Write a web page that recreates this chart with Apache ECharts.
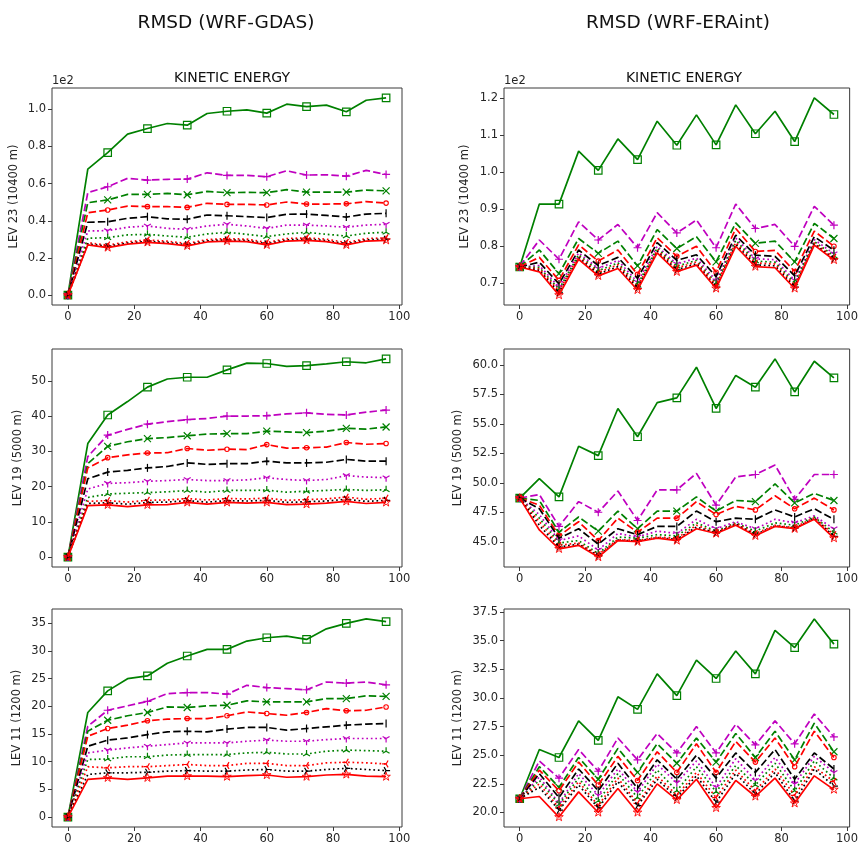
<!DOCTYPE html>
<html>
<head>
<meta charset="utf-8">
<script src="https://cdn.jsdelivr.net/npm/echarts@6/dist/echarts.min.js"></script>
<style>
  html, body { margin: 0; padding: 0; background: #ffffff; }
  #chart { width: 861px; height: 848px; }
</style>
</head>
<body>
<div id="chart"></div>
<script>
// Forecast hour of each sample (6-hourly, markers every 12 h)
const hours = [0, 6, 12, 18, 24, 30, 36, 42, 48, 54, 60, 66, 72, 78, 84, 90, 96];
const xTicks = [0, 20, 40, 60, 80, 100];

// Kinetic-energy RMSD, one row per experiment (same order as seriesLook below)
// WRF-GDAS, level 23 (10400 m)
const gdasLev23 = [
  [0, 67.8, 76.6, 86.6, 89.6, 92.3, 91.4, 97.7, 98.9, 99.6, 97.9, 102.7, 101.4, 102.2, 98.6, 104.8, 106.1],
  [0, 55.1, 58.3, 62.8, 61.9, 62.3, 62.4, 65.8, 64.4, 64.4, 63.7, 66.9, 64.6, 64.7, 64.0, 67.1, 64.9],
  [0, 49.7, 51.2, 54.2, 54.2, 54.7, 54.0, 55.8, 55.1, 55.3, 55.1, 56.7, 55.4, 55.4, 55.4, 56.5, 56.1],
  [0, 44.3, 45.8, 47.9, 47.6, 47.6, 47.2, 49.4, 48.8, 48.8, 48.5, 50.1, 49.0, 49.0, 49.1, 50.3, 49.5],
  [0, 39.2, 39.5, 41.3, 42.2, 41.0, 40.8, 43.1, 42.7, 42.2, 41.7, 43.5, 43.6, 42.9, 42.0, 43.6, 44.0],
  [0, 34.5, 34.7, 36.5, 37.2, 35.9, 35.4, 37.2, 38.1, 37.2, 35.9, 37.7, 37.7, 37.2, 36.5, 37.7, 38.1],
  [0, 30.6, 30.9, 32.4, 32.7, 31.8, 31.1, 32.9, 33.8, 32.7, 31.5, 32.9, 33.8, 32.7, 31.8, 33.3, 33.8],
  [0, 28.2, 26.9, 28.7, 29.7, 29.0, 27.8, 29.9, 30.4, 30.1, 28.3, 30.4, 30.8, 30.1, 28.3, 30.4, 30.8],
  [0, 27.6, 26.2, 28.0, 29.0, 28.3, 27.1, 29.2, 29.7, 29.4, 27.6, 29.7, 30.1, 29.4, 27.6, 29.7, 30.1],
  [0, 27.0, 25.6, 27.4, 28.4, 27.7, 26.5, 28.6, 29.1, 28.8, 27.0, 29.1, 29.5, 28.8, 27.0, 29.1, 29.5]
];
// WRF-ERAint, level 23 (10400 m)
const eraLev23 = [
  [74.4, 91.4, 91.4, 105.7, 100.5, 109.0, 103.4, 113.8, 107.3, 115.5, 107.4, 118.2, 110.4, 116.5, 108.3, 120.1, 115.6],
  [74.6, 81.7, 76.5, 86.6, 81.7, 85.9, 79.6, 89.1, 83.6, 87.1, 79.6, 91.4, 84.8, 85.9, 80.0, 90.8, 85.7],
  [74.5, 79.0, 72.6, 82.1, 78.1, 81.4, 74.7, 84.5, 79.4, 82.6, 75.8, 86.3, 80.8, 81.4, 75.8, 86.2, 82.1],
  [74.5, 77.0, 70.8, 80.4, 76.0, 79.0, 72.4, 82.3, 77.3, 80.0, 73.0, 84.8, 78.6, 78.9, 73.2, 84.1, 80.0],
  [74.4, 75.7, 69.8, 79.0, 74.8, 77.0, 71.3, 81.0, 76.2, 77.7, 71.8, 83.0, 77.6, 77.3, 72.0, 82.6, 78.9],
  [74.4, 74.8, 69.0, 78.2, 74.0, 76.2, 70.3, 80.0, 75.2, 76.8, 70.7, 82.2, 76.6, 76.4, 70.8, 81.8, 78.0],
  [74.4, 74.3, 68.4, 77.7, 73.4, 75.5, 69.6, 79.5, 74.6, 76.2, 70.0, 81.6, 76.0, 75.7, 70.1, 81.3, 77.4],
  [74.4, 73.9, 67.9, 77.3, 72.9, 75.0, 69.1, 79.0, 74.1, 75.8, 69.5, 81.0, 75.5, 75.2, 69.5, 80.9, 77.0],
  [74.4, 73.5, 67.4, 76.9, 72.5, 74.5, 68.7, 78.6, 73.6, 75.3, 69.0, 80.5, 75.0, 74.7, 69.0, 80.6, 76.6],
  [74.4, 73.1, 66.8, 76.5, 72.0, 74.0, 68.2, 78.2, 73.1, 74.9, 68.6, 80.0, 74.5, 74.2, 68.6, 80.3, 76.3]
];
// WRF-GDAS, level 19 (5000 m)
const gdasLev19 = [
  [0, 32.2, 40.3, 44.1, 48.2, 50.5, 51.0, 51.0, 53.1, 55.0, 54.9, 54.1, 54.3, 54.8, 55.4, 55.1, 56.2],
  [0, 28.5, 34.6, 36.2, 37.7, 38.4, 39.0, 39.3, 40.0, 40.0, 40.1, 40.6, 40.9, 40.5, 40.3, 41.1, 41.7],
  [0, 26.5, 31.4, 32.7, 33.6, 33.9, 34.4, 34.9, 35.0, 35.0, 35.7, 35.5, 35.3, 35.7, 36.5, 36.3, 36.9],
  [0, 25.3, 28.2, 29.0, 29.5, 29.6, 30.8, 30.3, 30.6, 30.5, 31.9, 30.9, 31.0, 31.2, 32.5, 32.0, 32.2],
  [0, 22.2, 24.1, 24.6, 25.3, 25.7, 26.7, 26.3, 26.5, 26.5, 27.2, 26.7, 26.7, 26.9, 27.7, 27.2, 27.2],
  [0, 19.3, 20.9, 21.1, 21.5, 21.7, 22.0, 21.7, 21.7, 21.9, 22.5, 22.0, 21.7, 22.0, 23.1, 22.7, 22.5],
  [0, 16.9, 17.9, 18.1, 18.3, 18.5, 18.9, 18.4, 18.9, 18.9, 19.0, 18.4, 18.7, 18.9, 19.2, 18.9, 19.1],
  [0, 15.8, 16.0, 15.6, 16.1, 16.2, 16.6, 16.2, 16.6, 16.5, 16.7, 16.1, 16.3, 16.5, 17.0, 16.4, 16.7],
  [0, 15.2, 15.4, 15.0, 15.5, 15.6, 16.0, 15.6, 16.0, 15.9, 16.1, 15.5, 15.7, 15.9, 16.4, 15.8, 16.1],
  [0, 14.6, 14.8, 14.3, 14.8, 14.9, 15.5, 15.0, 15.5, 15.3, 15.5, 14.9, 15.0, 15.3, 15.8, 15.2, 15.5]
];
// WRF-ERAint, level 19 (5000 m)
const eraLev19 = [
  [48.7, 50.35, 48.8, 53.1, 52.3, 56.3, 53.9, 56.8, 57.2, 59.8, 56.3, 59.1, 58.1, 60.5, 57.7, 60.3, 58.9],
  [48.7, 49.0, 46.3, 48.4, 47.5, 49.3, 46.8, 49.4, 49.4, 50.8, 48.1, 50.5, 50.7, 51.5, 48.6, 50.7, 50.7],
  [48.7, 48.5, 45.8, 47.1, 45.9, 47.6, 46.1, 47.6, 47.6, 48.8, 47.6, 48.5, 48.4, 49.9, 48.3, 49.1, 48.5],
  [48.7, 48.1, 45.5, 46.7, 45.1, 47.0, 45.8, 47.0, 47.0, 48.4, 47.3, 48.0, 47.7, 48.9, 47.8, 48.7, 47.7],
  [48.7, 47.8, 45.3, 46.1, 44.8, 46.1, 45.6, 46.3, 46.3, 47.6, 46.7, 47.0, 46.9, 47.7, 47.1, 47.8, 46.9],
  [48.7, 47.3, 45.1, 45.5, 44.3, 45.7, 45.4, 45.9, 45.7, 46.9, 46.1, 46.7, 46.1, 46.9, 46.6, 47.2, 46.1],
  [48.7, 47.0, 44.9, 45.1, 44.0, 45.4, 45.3, 45.6, 45.5, 46.6, 45.9, 46.6, 45.9, 46.6, 46.4, 47.1, 45.8],
  [48.7, 46.7, 44.7, 44.9, 43.9, 45.2, 45.1, 45.4, 45.3, 46.4, 45.8, 46.55, 45.7, 46.4, 46.2, 47.05, 45.6],
  [48.7, 46.4, 44.55, 44.8, 43.8, 45.15, 45.05, 45.35, 45.2, 46.25, 45.75, 46.5, 45.6, 46.35, 46.15, 47.0, 45.45],
  [48.7, 46.0, 44.4, 44.7, 43.7, 45.1, 45.0, 45.3, 45.1, 46.1, 45.7, 46.4, 45.5, 46.3, 46.1, 46.9, 45.3]
];
// WRF-GDAS, level 11 (1200 m)
const gdasLev11 = [
  [0, 18.9, 22.8, 25.0, 25.5, 27.8, 29.1, 30.3, 30.3, 31.8, 32.4, 32.7, 32.1, 34.0, 35.0, 35.8, 35.3],
  [0, 16.4, 19.3, 20.1, 20.9, 22.3, 22.5, 22.5, 22.2, 23.8, 23.4, 23.2, 23.0, 24.4, 24.2, 24.4, 23.9],
  [0, 15.5, 17.5, 18.3, 18.9, 19.9, 19.8, 20.1, 20.2, 21.0, 20.8, 20.8, 20.8, 21.4, 21.4, 21.9, 21.8],
  [0, 14.6, 16.0, 16.6, 17.4, 17.7, 17.8, 17.8, 18.3, 19.0, 18.7, 18.4, 18.9, 19.6, 19.2, 19.3, 19.9],
  [0, 12.8, 13.9, 14.3, 14.9, 15.4, 15.5, 15.4, 15.9, 16.2, 16.2, 15.7, 16.0, 16.3, 16.6, 16.8, 16.9],
  [0, 11.6, 12.1, 12.5, 12.8, 13.1, 13.4, 13.4, 13.4, 13.7, 13.9, 13.7, 13.7, 14.0, 14.2, 14.2, 14.2],
  [0, 10.4, 10.5, 10.9, 10.9, 11.2, 11.3, 11.3, 11.3, 11.6, 11.7, 11.4, 11.4, 11.9, 12.1, 12.0, 11.9],
  [0, 9.1, 8.9, 9.1, 9.1, 9.3, 9.5, 9.3, 9.3, 9.7, 9.7, 9.3, 9.3, 9.8, 9.9, 9.8, 9.6],
  [0, 7.7, 8.0, 8.0, 8.1, 8.3, 8.4, 8.3, 8.3, 8.5, 8.6, 8.3, 8.3, 8.6, 8.8, 8.6, 8.4],
  [0, 6.8, 7.1, 6.8, 7.1, 7.4, 7.4, 7.4, 7.3, 7.5, 7.6, 7.2, 7.3, 7.6, 7.7, 7.4, 7.3]
];
// WRF-ERAint, level 11 (1200 m)
const eraLev11 = [
  [21.2, 25.5, 24.8, 28.0, 26.3, 30.1, 29.0, 32.1, 30.2, 33.3, 31.7, 34.1, 32.1, 35.9, 34.4, 36.9, 34.7],
  [21.2, 24.5, 23.0, 25.5, 23.6, 26.5, 24.6, 26.9, 25.2, 27.5, 25.2, 27.7, 25.9, 28.0, 26.0, 28.6, 26.6],
  [21.2, 24.0, 22.2, 24.8, 22.9, 25.6, 23.5, 26.0, 24.3, 26.5, 24.4, 26.9, 24.8, 27.1, 24.6, 27.8, 25.3],
  [21.2, 23.7, 21.9, 24.4, 22.4, 24.9, 22.8, 25.3, 23.5, 26.0, 23.5, 26.2, 24.4, 26.5, 24.0, 27.1, 24.8],
  [21.2, 23.4, 21.3, 23.8, 21.9, 24.3, 22.1, 24.6, 22.9, 25.0, 23.0, 25.2, 23.5, 25.5, 22.9, 25.2, 23.8],
  [21.2, 23.1, 20.8, 23.4, 21.5, 23.8, 21.8, 24.2, 22.6, 24.5, 22.2, 24.7, 22.8, 24.8, 22.5, 24.9, 23.5],
  [21.2, 22.8, 20.7, 23.0, 21.0, 23.4, 21.3, 23.7, 21.9, 24.0, 21.8, 24.1, 22.4, 24.3, 21.9, 24.5, 23.0],
  [21.2, 22.5, 20.4, 22.7, 20.6, 23.0, 20.8, 23.2, 21.5, 23.5, 21.3, 23.7, 21.9, 23.8, 21.5, 24.0, 22.7],
  [21.2, 22.2, 20.2, 22.4, 20.4, 22.7, 20.6, 22.9, 21.3, 23.2, 20.9, 23.4, 21.6, 23.5, 21.0, 23.8, 22.3],
  [21.2, 21.4, 19.6, 21.8, 20.0, 22.1, 20.0, 22.5, 21.1, 22.9, 20.4, 22.8, 21.4, 23.0, 20.8, 23.2, 22.0]
];

// Y tick values per panel
const ticksGdas23 = [0, 20, 40, 60, 80, 100];
const ticksEra23 = [70, 80, 90, 100, 110, 120];
const ticksGdas19 = [0, 10, 20, 30, 40, 50];
const ticksEra19 = [45, 47.5, 50, 52.5, 55, 57.5, 60];
const ticksGdas11 = [0, 5, 10, 15, 20, 25, 30, 35];
const ticksEra11 = [20, 22.5, 25, 27.5, 30, 32.5, 35, 37.5];

const FONT = 'DejaVu Sans';
const TEXT = '#262626';
const FRAME = '#3a3a3a';

// Marker outlines (stroked, unfilled); the corner dots keep every glyph centred
const PAD = ' M-1,-1 L-1,-1 M1,1 L1,1';
const SYM = {
  square: 'path://M-1,-1 L1,-1 L1,1 L-1,1 Z',
  plus: 'path://M0,-1 L0,1 M-1,0 L1,0' + PAD,
  cross: 'path://M-1,-1 L1,1 M1,-1 L-1,1',
  circle: 'circle',
  vline: 'path://M0,-1 L0,1' + PAD,
  triDown: 'path://M0,0 L0,1 M0,0 L-0.866,-0.5 M0,0 L0.866,-0.5' + PAD,
  triUp: 'path://M0,0 L0,-1 M0,0 L-0.866,0.5 M0,0 L0.866,0.5' + PAD,
  triLeft: 'path://M0,0 L-1,0 M0,0 L0.5,-0.866 M0,0 L0.5,0.866' + PAD,
  triRight: 'path://M0,0 L1,0 M0,0 L-0.5,-0.866 M0,0 L-0.5,0.866' + PAD,
  star: 'path://M0,-1 L0.2245,-0.309 L0.951,-0.309 L0.363,0.118 L0.588,0.809 L0,0.382 L-0.588,0.809 L-0.363,0.118 L-0.951,-0.309 L-0.2245,-0.309 Z' + PAD
};

const DASH = [7.5, 3.2];
const DOT = [1.7, 2.8];
const seriesLook = [
  { color: '#008000', dash: 'solid', symbol: SYM.square,   size: 7.5, stroke: 1.2 },
  { color: '#bf00bf', dash: DASH,    symbol: SYM.plus,     size: 8,   stroke: 1.2 },
  { color: '#008000', dash: DASH,    symbol: SYM.cross,    size: 7,   stroke: 1.2 },
  { color: '#ff0000', dash: DASH,    symbol: SYM.circle,   size: 4.5, stroke: 1.1 },
  { color: '#000000', dash: DASH,    symbol: SYM.vline,    size: 8,   stroke: 1.2 },
  { color: '#bf00bf', dash: DOT,     symbol: SYM.triDown,  size: 8,   stroke: 1.2 },
  { color: '#008000', dash: DOT,     symbol: SYM.triUp,    size: 8,   stroke: 1.2 },
  { color: '#ff0000', dash: DOT,     symbol: SYM.triLeft,  size: 8,   stroke: 1.2 },
  { color: '#000000', dash: DOT,     symbol: SYM.triRight, size: 8,   stroke: 1.2 },
  { color: '#ff0000', dash: 'solid', symbol: SYM.star,     size: 9,   stroke: 0.9 }
];

const fmt1 = v => v.toFixed(1);
const fmtE2 = v => (v / 100).toFixed(1);
const fmt0 = v => String(v);

const panels = [
  { rows: gdasLev23, ticks: ticksGdas23, fmt: fmtE2, name: 'LEV 23 (10400 m)', left: 52,  top: 88,  height: 217, gap: 32 },
  { rows: eraLev23,  ticks: ticksEra23,  fmt: fmtE2, name: 'LEV 23 (10400 m)', left: 504, top: 88,  height: 217, gap: 33 },
  { rows: gdasLev19, ticks: ticksGdas19, fmt: fmt0,  name: 'LEV 19 (5000 m)',  left: 52,  top: 349, height: 218, gap: 28 },
  { rows: eraLev19,  ticks: ticksEra19,  fmt: fmt1,  name: 'LEV 19 (5000 m)',  left: 504, top: 349, height: 218, gap: 40 },
  { rows: gdasLev11, ticks: ticksGdas11, fmt: fmt0,  name: 'LEV 11 (1200 m)',  left: 52,  top: 609, height: 218, gap: 29 },
  { rows: eraLev11,  ticks: ticksEra11,  fmt: fmt1,  name: 'LEV 11 (1200 m)',  left: 504, top: 609, height: 218, gap: 40 }
];
const PANEL_W = 350;

// Autoscale with a 5% margin on each side of the data range
function padded(values) {
  const lo = Math.min(...values), hi = Math.max(...values);
  const m = (hi - lo) * 0.05;
  return [lo - m, hi + m];
}
const xRange = padded(hours);

const grids = [], xAxes = [], yAxes = [], series = [];
panels.forEach((p, i) => {
  grids.push({
    left: p.left, top: p.top, width: PANEL_W, height: p.height,
    show: true, borderColor: FRAME, borderWidth: 1, backgroundColor: 'transparent'
  });
  xAxes.push({
    type: 'value', gridIndex: i, min: xRange[0], max: xRange[1],
    axisLine: { show: false, onZero: false },
    splitLine: { show: false },
    axisTick: { show: true, inside: false, length: 4, customValues: xTicks, lineStyle: { color: FRAME, width: 1 } },
    axisLabel: { customValues: xTicks, color: TEXT, fontFamily: FONT, fontSize: 11.5, margin: 6, showMinLabel: true, showMaxLabel: true }
  });
  const yr = padded(p.rows.flat());
  yAxes.push({
    type: 'value', gridIndex: i, min: yr[0], max: yr[1],
    name: p.name, nameLocation: 'middle', nameGap: p.gap, nameMoveOverlap: false,
    nameTextStyle: { color: TEXT, fontFamily: FONT, fontSize: 11.5 },
    axisLine: { show: false, onZero: false },
    splitLine: { show: false },
    axisTick: { show: true, inside: false, length: 4, customValues: p.ticks, lineStyle: { color: FRAME, width: 1 } },
    axisLabel: { customValues: p.ticks, formatter: p.fmt, color: TEXT, fontFamily: FONT, fontSize: 11.5, margin: 6 }
  });
  p.rows.forEach((row, k) => {
    const look = seriesLook[k];
    series.push({
      type: 'line', xAxisIndex: i, yAxisIndex: i,
      data: row.map((v, j) => j % 2 === 0 ? [hours[j], v] : { value: [hours[j], v], symbol: 'none' }),
      symbol: look.symbol, symbolSize: look.size, symbolKeepAspect: true,
      lineStyle: { color: look.color, width: 1.7, type: look.dash, cap: 'butt' },
      itemStyle: { color: 'rgba(255,255,255,0)', borderColor: look.color, borderWidth: look.stroke },
      z: 2 + k, clip: true, silent: true, animation: false
    });
  });
});

const chart = echarts.init(document.getElementById('chart'), null, { renderer: 'canvas' });
chart.setOption({
  backgroundColor: '#ffffff',
  animation: false,
  title: [
    { text: 'RMSD (WRF-GDAS)', left: 221, top: 9, textAlign: 'center',
      textStyle: { fontFamily: FONT, fontSize: 18.5, fontWeight: 'normal', color: '#111' } },
    { text: 'RMSD (WRF-ERAint)', left: 673, top: 9, textAlign: 'center',
      textStyle: { fontFamily: FONT, fontSize: 18.5, fontWeight: 'normal', color: '#111' } },
    { text: 'KINETIC ENERGY', left: 227, top: 66, textAlign: 'center',
      textStyle: { fontFamily: FONT, fontSize: 14, fontWeight: 'normal', color: '#111' } },
    { text: 'KINETIC ENERGY', left: 679, top: 66, textAlign: 'center',
      textStyle: { fontFamily: FONT, fontSize: 14, fontWeight: 'normal', color: '#111' } }
  ],
  graphic: [
    { type: 'text', left: 52, top: 75, style: { text: '1e2', fill: TEXT, font: '11.5px "DejaVu Sans"' } },
    { type: 'text', left: 504, top: 75, style: { text: '1e2', fill: TEXT, font: '11.5px "DejaVu Sans"' } }
  ],
  grid: grids,
  xAxis: xAxes,
  yAxis: yAxes,
  series: series
});
</script>
</body>
</html>
